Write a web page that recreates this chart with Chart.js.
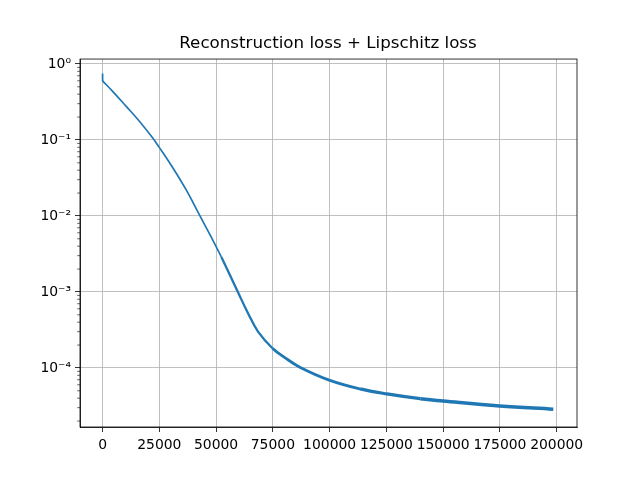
<!DOCTYPE html>
<html>
<head>
<meta charset="utf-8">
<script src="https://cdn.jsdelivr.net/npm/chart.js@4/dist/chart.umd.min.js"></script>
<style>
html,body{margin:0;padding:0;background:#fff;}
#wrap{width:640px;height:480px;}
</style>
</head>
<body>
<div id="wrap"><canvas id="c" width="640" height="480"></canvas></div>
<script>
// Data
const steps = [0, 4420, 10330, 16210, 22090, 24730, 30920, 36840, 42710, 47880, 52300, 59630, 64050, 68460, 74820, 80260, 86880, 99800, 113400, 125200, 139900, 149900, 174900, 198500];
const loss  = [0.597, 0.4365, 0.2786, 0.1762, 0.1059, 0.0817, 0.04315, 0.02198, 0.01023, 0.00525, 0.002884, 0.000991, 5.25e-4, 3.006e-4, 1.816e-4, 1.37e-4, 1.023e-4, 6.92e-5, 5.30e-5, 4.55e-5, 3.94e-5, 3.68e-5, 3.16e-5, 2.86e-5];
// initial spike at step 0
const spikeSteps = [0, 0];
const spikeLoss  = [0.75, 0.597];

const xTicks = [0, 25000, 50000, 75000, 100000, 125000, 150000, 175000, 200000];
const yTicks = [1e-4, 1e-3, 1e-2, 1e-1, 1];
const yTickLabels = ['10\u207B\u2074', '10\u207B\u00B3', '10\u207B\u00B2', '10\u207B\u00B9', '10\u2070'];
const titleText = 'Reconstruction loss + Lipschitz loss';

const points = steps.map((s, i) => ({x: s, y: loss[i]}));
const spike = spikeSteps.map((s, i) => ({x: s, y: spikeLoss[i]}));

Chart.defaults.color = '#000';
Chart.defaults.font.family = 'DejaVu Sans';

const frame = {
  id: 'frame',
  afterDraw(chart) {
    const {ctx, chartArea: a} = chart;
    ctx.save();
    const ys = chart.scales.y;
    ctx.strokeStyle = '#000';
    ctx.lineWidth = 0.6;
    for (let k = -6; k <= 1; k++) {
      for (let m = 2; m <= 9; m++) {
        const v = m * Math.pow(10, k);
        if (v < ys.min || v > ys.max) continue;
        const py = ys.getPixelForValue(v);
        ctx.beginPath();
        ctx.moveTo(a.left - 2.8, py);
        ctx.lineTo(a.left, py);
        ctx.stroke();
      }
    }
    ctx.lineWidth = 0.8;
    ctx.strokeRect(a.left, a.top, a.right - a.left, a.bottom - a.top);
    ctx.restore();
  }
};

new Chart(document.getElementById('c'), {
  type: 'line',
  data: {
    datasets: [{
      data: points,
      borderColor: '#1f77b4',
      borderWidth: 1.7,
      pointRadius: 0,
      fill: false,
      tension: 0.4,
      segment: {
        borderWidth: c => {
          const x = c.p0.parsed.x;
          if (x < 50000) return 1.7;
          if (x < 70000) return 2.3;
          if (x < 100000) return 2.8;
          if (x < 130000) return 3.2;
          return 3.5;
        }
      }
    }, {
      data: spike,
      borderColor: '#1f77b4',
      borderWidth: 1.7,
      pointRadius: 0,
      fill: false,
      tension: 0
    }]
  },
  options: {
    responsive: false,
    animation: false,
    devicePixelRatio: 1,
    layout: {padding: {left: 16, right: 0, top: 0, bottom: 0}},
    plugins: {
      legend: {display: false},
      tooltip: {enabled: false},
      title: {
        display: true,
        text: titleText,
        color: '#000',
        font: {family: 'DejaVu Sans', size: 16.7, weight: 'normal'},
        padding: {top: 34, bottom: 5}
      }
    },
    scales: {
      x: {
        type: 'linear',
        min: -9950,
        max: 208950,
        afterBuildTicks: s => { s.ticks = xTicks.map(v => ({value: v})); },
        afterFit: s => { s.height = 53; },
        ticks: {
          callback: v => String(v),
          font: {family: 'DejaVu Sans', size: 13.9},
          color: '#000',
          padding: 5,
          maxRotation: 0,
          autoSkip: false
        },
        grid: {color: '#b0b0b0', lineWidth: 0.8, tickColor: '#000', tickLength: 5, tickWidth: 0.8},
        border: {color: '#000', width: 0.8}
      },
      y: {
        type: 'logarithmic',
        min: 1.67e-5,
        max: 1.16,
        afterBuildTicks: s => { s.ticks = yTicks.map(v => ({value: v})); },
        afterFit: s => { s.width = 64; },
        ticks: {
          callback: (v) => { const i = yTicks.indexOf(v); return i >= 0 ? yTickLabels[i] : ''; },
          font: {family: 'DejaVu Sans', size: 13.9},
          color: '#000',
          padding: 4,
          autoSkip: false
        },
        grid: {color: '#b0b0b0', lineWidth: 0.8, tickColor: '#000', tickLength: 5, tickWidth: 0.8},
        border: {color: '#000', width: 0.8}
      },
      y2: {
        type: 'linear',
        position: 'right',
        display: true,
        afterFit: s => { s.width = 63; },
        grid: {display: false, drawTicks: false},
        ticks: {display: false},
        border: {display: false}
      }
    }
  },
  plugins: [frame]
});
</script>
</body>
</html>
